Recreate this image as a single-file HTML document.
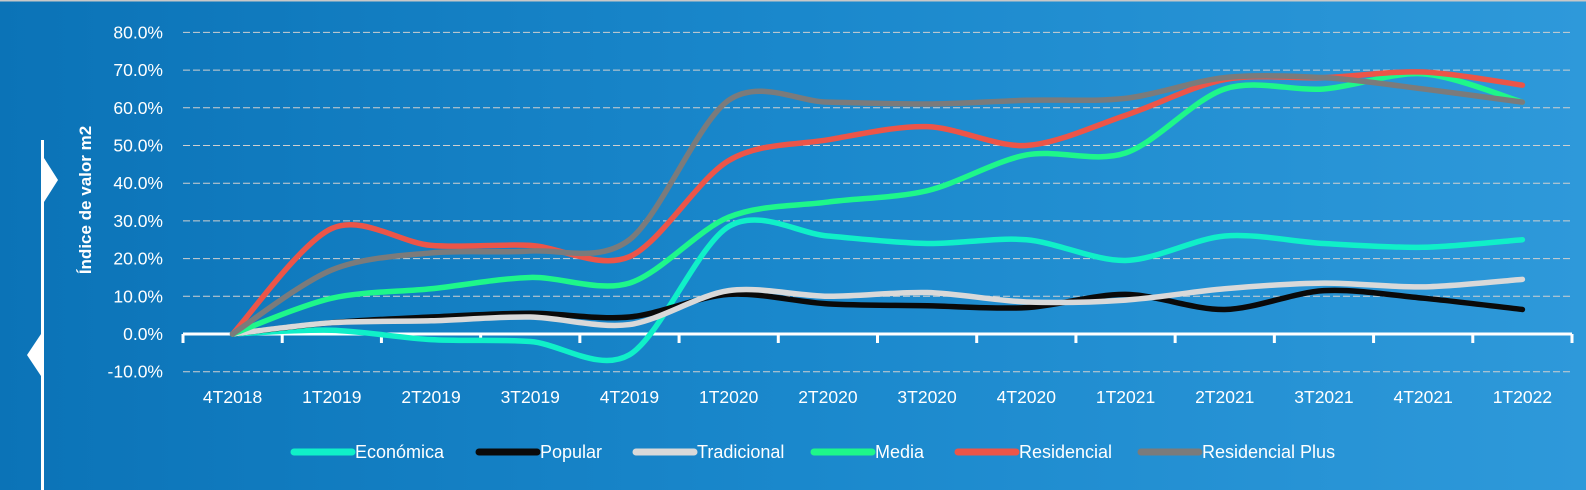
<!DOCTYPE html>
<html><head><meta charset="utf-8"><style>
html,body{margin:0;padding:0;}
body{width:1586px;height:490px;overflow:hidden;background:linear-gradient(90deg,#0b73b7 0%,#1a88cc 50%,#2e99da 100%);font-family:"Liberation Sans",sans-serif;}
</style></head><body>
<svg width="1586" height="490" xmlns="http://www.w3.org/2000/svg" style="position:absolute;left:0;top:0">
<rect x="0" y="0" width="1586" height="1.5" fill="#c8c8c8"/>
<line x1="42.5" y1="140" x2="42.5" y2="490" stroke="#fff" stroke-width="3"/>
<polygon points="44,158 58,180 44,202" fill="#fff"/>
<polygon points="41,334 27,355 41,376" fill="#fff"/>
<text transform="translate(91,200) rotate(-90)" text-anchor="middle" fill="#fff" font-size="17" font-weight="bold">Índice de valor m2</text>
<g id="grid" stroke="#d0d0d0" stroke-width="1" stroke-dasharray="7,3"></g>
<g id="ylab" fill="#fff" font-size="17.5" text-anchor="end"></g>
<g id="xlab" fill="#fff" font-size="17.5" text-anchor="middle"></g>
<g id="axis" stroke="#fff" stroke-width="3" fill="none"></g>
<g id="series" fill="none" stroke-width="5.5" stroke-linecap="round" stroke-linejoin="round"></g>
<g id="legend" font-size="18" fill="#fff"></g>
</svg>
<script>
var NS="http://www.w3.org/2000/svg";
function el(t,a,p,txt){var e=document.createElementNS(NS,t);for(var k in a)e.setAttribute(k,a[k]);if(txt!=null)e.textContent=txt;document.getElementById(p).appendChild(e);return e;}
var x0=183,x1=1572,n=14,cw=(x1-x0)/n;
function Y(v){return 334-v*3.77;}
function X(i){return x0+cw*(i+0.5);}
for(var v=-10;v<=80;v+=10){ if(v!=0) el('line',{x1:x0,x2:x1,y1:Y(v),y2:Y(v)},'grid');
 el('text',{x:163,y:Y(v)+6},'ylab',v.toFixed(1)+'%');}
var cats=['4T2018','1T2019','2T2019','3T2019','4T2019','1T2020','2T2020','3T2020','4T2020','1T2021','2T2021','3T2021','4T2021','1T2022'];
cats.forEach(function(c,i){el('text',{x:X(i),y:403},'xlab',c);});
var ax=el('path',{d:''},'axis');var d='M'+x0+','+Y(0)+' H'+x1;
for(var i=0;i<=n;i++){var xx=x0+cw*i;d+=' M'+xx+','+Y(0)+' V'+(Y(0)+9);}
ax.setAttribute('d',d);
var S=[
['Económica','#10f0c8',[0,1,-1.5,-2,-5.5,28.5,26,24,25,19.5,26,24,23,25]],
['Popular','#0a0a0a',[0,3,4.5,5.5,4.5,10.5,8,7.5,7,10.5,6.5,11.5,9.5,6.5]],
['Tradicional','#d9d9d9',[0,3,3.5,4.5,2.5,11.5,10,11,8.5,9,12,13.5,12.5,14.5]],
['Media','#1ef78a',[0,9.5,12,15,13.5,31,35,38,47.5,48,65,65,69,61.5]],
['Residencial','#ec5548',[0,28,23.5,23.5,20.5,46,51.5,55,50,58,67.5,68,69.5,66]],
['Residencial Plus','#7b7b7b',[0,17,21.5,22,25,62,61.5,61,62,62.5,68,68,65,61.5]]];
S.forEach(function(s){var p=s[2].map(function(v,i){return [X(i),Y(v)];});
 var d='M'+p[0][0]+','+p[0][1];
 for(var i=0;i<p.length-1;i++){var a=p[Math.max(0,i-1)],b=p[i],c=p[i+1],e=p[Math.min(p.length-1,i+2)],t=6.5;
  d+=' C'+(b[0]+(c[0]-a[0])/t)+','+(b[1]+(c[1]-a[1])/t)+' '+(c[0]-(e[0]-b[0])/t)+','+(c[1]-(e[1]-b[1])/t)+' '+c[0]+','+c[1];}
 el('path',{d:d,stroke:s[1]},'series');});
var lx=[294,479,636,814,958,1141];
S.forEach(function(s,i){el('line',{x1:lx[i],x2:lx[i]+58,y1:452,y2:452,stroke:s[1],'stroke-width':7,'stroke-linecap':'round'},'legend');
 el('text',{x:lx[i]+61,y:458},'legend',s[0]);});
</script>
</body></html>
